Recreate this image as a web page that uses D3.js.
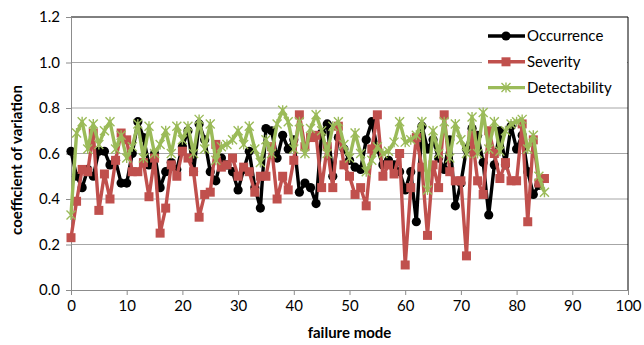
<!DOCTYPE html>
<html>
<head>
<meta charset="utf-8">
<script src="https://cdn.jsdelivr.net/npm/d3@7"></script>
<style>
  body { margin: 0; background: #fff; }
  svg { display: block; font-family: Lato, "Open Sans", sans-serif; }
</style>
</head>
<body>
<svg id="chart" width="644" height="345"></svg>
<script>
// failure modes 0..85
const modes = d3.range(0, 86);
const occurrence = [0.61,0.50,0.45,0.53,0.50,0.61,0.61,0.55,0.57,0.47,0.47,0.60,0.74,0.67,0.55,0.60,0.45,0.52,0.56,0.53,
  0.63,0.70,0.52,0.73,0.66,0.52,0.48,0.58,0.55,0.52,0.44,0.53,0.61,0.45,0.36,0.71,0.70,0.58,0.68,0.62,
  0.66,0.43,0.47,0.45,0.38,0.69,0.73,0.50,0.67,0.62,0.57,0.54,0.53,0.66,0.74,0.62,0.55,0.57,0.55,0.52,
  0.44,0.52,0.30,0.72,0.62,0.66,0.58,0.53,0.66,0.37,0.47,0.62,0.71,0.68,0.56,0.33,0.55,0.70,0.55,0.72,
  0.62,0.68,0.52,0.42,0.46];
const severity = [0.23,0.39,0.53,0.52,0.69,0.35,0.51,0.40,0.57,0.69,0.66,0.52,0.52,0.56,0.41,0.58,0.25,0.36,0.55,0.50,
  0.61,0.58,0.52,0.32,0.42,0.43,0.64,0.54,0.55,0.58,0.50,0.54,0.52,0.43,0.50,0.50,0.63,0.40,0.50,0.44,
  0.57,0.77,0.63,0.67,0.68,0.45,0.63,0.45,0.72,0.55,0.50,0.42,0.45,0.37,0.62,0.77,0.50,0.55,0.51,0.60,
  0.11,0.45,0.67,0.54,0.24,0.55,0.45,0.77,0.52,0.48,0.48,0.15,0.68,0.48,0.42,0.70,0.60,0.49,0.56,0.48,
  0.48,0.73,0.30,0.66,0.47,0.49];
const detectability = [0.33,0.69,0.74,0.62,0.73,0.64,0.70,0.74,0.62,0.68,0.58,0.63,0.73,0.58,0.72,0.60,0.64,0.70,0.60,0.72,
  0.66,0.72,0.60,0.75,0.62,0.73,0.57,0.63,0.64,0.66,0.70,0.64,0.72,0.62,0.56,0.66,0.60,0.73,0.79,0.74,
  0.62,0.74,0.60,0.71,0.77,0.70,0.60,0.72,0.74,0.64,0.58,0.69,0.60,0.52,0.57,0.63,0.60,0.61,0.65,0.74,
  0.65,0.66,0.68,0.74,0.44,0.70,0.60,0.74,0.58,0.73,0.66,0.60,0.76,0.60,0.78,0.62,0.74,0.61,0.70,0.73,
  0.74,0.75,0.62,0.68,0.50,0.43];
const xTicks = d3.range(0, 101, 10);
const yTicks = [0, 0.2, 0.4, 0.6, 0.8, 1.0, 1.2];

const seriesList = [
  { name: 'Occurrence', values: occurrence, color: '#000000', marker: 'circle' },
  { name: 'Severity', values: severity, color: '#C0504D', marker: 'square' },
  { name: 'Detectability', values: detectability, color: '#9BBB59', marker: 'star' }
];

const svg = d3.select('#chart');
const plotL = 71, plotR = 628, plotT = 17, plotB = 290;
const fontSize = '15px';

const x = d3.scaleLinear().domain([0, 100]).range([plotL, plotR]);
const y = d3.scaleLinear().domain([0, 1.2]).range([plotB, plotT]);

// gridlines
svg.append('g').selectAll('line')
  .data(yTicks.filter(d => d > 0 && d < 1.2))
  .join('line')
  .attr('x1', plotL).attr('x2', plotR)
  .attr('y1', d => y(d)).attr('y2', d => y(d))
  .attr('stroke', '#a6a6a6').attr('stroke-width', 1);

// plot border top/right
svg.append('path')
  .attr('d', `M${plotL},${plotT}H${plotR}V${plotB}`)
  .attr('fill', 'none').attr('stroke', '#000').attr('stroke-width', 1);

// axes
const yAxis = svg.append('g')
  .attr('transform', `translate(${plotL},0)`)
  .call(d3.axisLeft(y).tickValues(yTicks).tickFormat(d3.format('.1f')).tickSize(5).tickPadding(6));
const xAxis = svg.append('g')
  .attr('transform', `translate(0,${plotB})`)
  .call(d3.axisBottom(x).tickValues(xTicks).tickSize(5).tickPadding(5));
[xAxis, yAxis].forEach(a => {
  a.select('.domain').attr('stroke', '#8c8c8c');
  a.selectAll('.tick line').attr('stroke', '#8c8c8c');
  a.selectAll('.tick text').attr('fill', '#000').style('font-size', fontSize)
    .style('font-family', 'Lato, "Open Sans", sans-serif');
});

function drawMarker(g, type, color) {
  if (type === 'circle') {
    g.append('circle').attr('r', 4.6).attr('fill', color);
  } else if (type === 'square') {
    g.append('rect').attr('x', -4.5).attr('y', -4.5).attr('width', 9).attr('height', 9).attr('fill', color);
  } else {
    g.append('path').attr('d', 'M-4.5,-4.5L4.5,4.5M-4.5,4.5L4.5,-4.5M0,-5V5')
      .attr('stroke', color).attr('stroke-width', 1.4).attr('fill', 'none');
  }
}

const line = d3.line().x((d, i) => x(modes[i])).y(d => y(d));

seriesList.forEach(s => {
  const g = svg.append('g');
  g.append('path').datum(s.values)
    .attr('d', line)
    .attr('fill', 'none').attr('stroke', s.color).attr('stroke-width', 3.4)
    .attr('stroke-linejoin', 'round');
  s.values.forEach((v, i) => {
    const m = g.append('g').attr('transform', `translate(${x(modes[i])},${y(v)})`);
    drawMarker(m, s.marker, s.color);
  });
});

// legend
const lg = svg.append('g');
lg.append('rect').attr('x', 482).attr('y', plotT + 1).attr('width', plotR - 482 - 1).attr('height', 86)
  .attr('fill', '#fff');
seriesList.forEach((s, i) => {
  const cy = 36 + i * 25.8;
  lg.append('line').attr('x1', 488).attr('x2', 525).attr('y1', cy).attr('y2', cy)
    .attr('stroke', s.color).attr('stroke-width', 3.4);
  const m = lg.append('g').attr('transform', `translate(506,${cy})`);
  drawMarker(m, s.marker, s.color);
  lg.append('text').attr('x', 527).attr('y', cy + 5).text(s.name)
    .style('font-size', fontSize).attr('fill', '#000');
});

// axis titles
svg.append('text')
  .attr('transform', 'translate(22,160) rotate(-90)')
  .attr('text-anchor', 'middle')
  .style('font-size', fontSize).style('font-weight', 'bold')
  .text('coefficient of variation');
svg.append('text')
  .attr('x', (plotL + plotR) / 2).attr('y', 338)
  .attr('text-anchor', 'middle')
  .style('font-size', fontSize).style('font-weight', 'bold')
  .text('failure mode');
</script>
</body>
</html>
